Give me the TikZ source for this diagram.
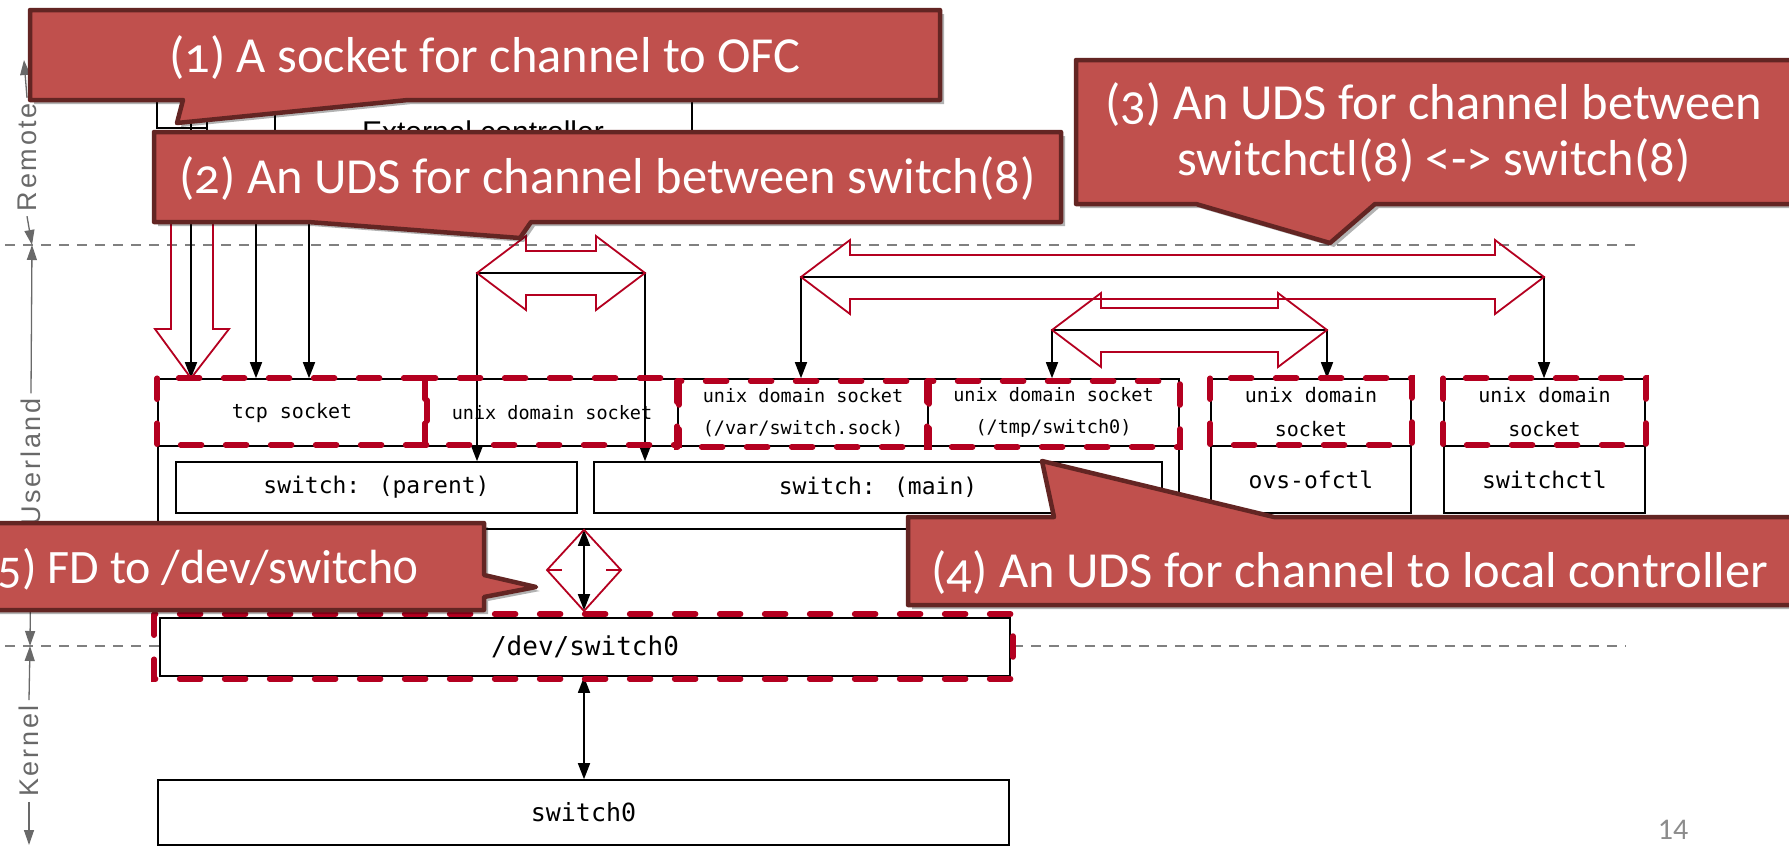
\documentclass[tikz,border=0pt]{standalone}
\usepackage{fontspec}
\setmainfont{Liberation Sans}
\newfontfamily\calloutfont[Numbers=OldStyle]{Carlito}
\newfontfamily\pagefont{Carlito}
\newfontfamily\gothic{DejaVu Sans Mono}
\newfontfamily\spacedfont[LetterSpace=10]{Liberation Sans}
\usetikzlibrary{arrows.meta,shadows,calc}

\definecolor{calloutfill}{RGB}{192,80,77}
\definecolor{calloutedge}{RGB}{99,37,35}
\definecolor{hilite}{RGB}{180,0,32}
\definecolor{axisgray}{RGB}{105,105,105}
\definecolor{sepgray}{RGB}{128,128,128}
\definecolor{pagegray}{RGB}{140,140,140}

% hollow double-headed arrow between two named points on one level
\newcommand\hollowpair[2]{%
  \draw[hollow] let \p1=(#1), \p2=(#2) in
    (\x1,\y1) -- (\x1+49pt,\y1+37pt) -- (\x1+49pt,\y1+22pt) -- (\x2-49pt,\y1+22pt)
    -- (\x2-49pt,\y1+37pt) -- (\x2,\y2) -- (\x2-49pt,\y1-37pt) -- (\x2-49pt,\y1-22pt)
    -- (\x1+49pt,\y1-22pt) -- (\x1+49pt,\y1-37pt) -- cycle;}

\begin{document}
\begin{tikzpicture}[x=1pt,y=-1pt,
  box/.style={draw=black, line width=1.6pt, fill=white, inner sep=0pt, font=\gothic},
  conn/.style={draw=black, line width=1.6pt, -{Triangle[length=16pt,width=12pt]}},
  dconn/.style={draw=black, line width=1.6pt, {Triangle[length=16pt,width=12pt]}-{Triangle[length=16pt,width=12pt]}},
  hollow/.style={draw=hilite, line width=1.8pt, line join=miter},
  hilitebox/.style={draw=hilite, line width=5.5pt, line cap=round, dash pattern=on 21pt off 24pt},
  sepline/.style={draw=sepgray, line width=1.4pt, dash pattern=on 10pt off 8pt},
  axislbl/.style={rotate=90, text=axisgray, font=\spacedfont\fontsize{27}{30}\selectfont, inner sep=5pt},
  axarrow/.style={draw=axisgray, line width=1.3pt, -{Triangle[length=15pt,width=10pt]}},
  callout/.style={fill=calloutfill, draw=calloutedge, line width=4.5pt, line join=round,
    drop shadow={shadow xshift=4pt, shadow yshift=-4pt, opacity=0.3, fill=black}},
  callouttext/.style={text=white, font=\calloutfont\fontsize{50.5}{56}\selectfont, inner sep=0pt},
]
\useasboundingbox (0,0) rectangle (1789,847);
\clip (0,0) rectangle (1789,847);
\fill[white] (0,0) rectangle (1789,847);

% --- layer separators
\coordinate (sepA1) at (5,245);  \coordinate (sepA2) at (1635,245);
\coordinate (sepB1) at (5,646);  \coordinate (sepB2) at (1626,646);
\draw[sepline] (sepA1) -- (sepA2);
\draw[sepline] (sepB1) -- (sepB2);

% --- side axis
\node[axislbl] (remote) at (27,157) {Remote};
\coordinate (remtop) at (24,60); \coordinate (rembot) at (32,245);
\draw[axarrow] (remote.east) -- (remtop);
\draw[axarrow] (remote.west) -- (rembot);
\node[axislbl] (userland) at (31,462) {Userland};
\coordinate (usrtop) at (32,245); \coordinate (usrbot) at (30,646);
\draw[axarrow] (userland.east) -- (usrtop);
\draw[axarrow] (userland.west) -- (usrbot);
\node[axislbl] (kernel) at (29,751) {Kernel};
\coordinate (kertop) at (30,646); \coordinate (kerbot) at (29,845);
\draw[axarrow] (kernel.east) -- (kertop);
\draw[axarrow] (kernel.west) -- (kerbot);

% --- remote side
\node[box, minimum width=485pt, minimum height=110pt] (ext) at (449.5,95) {};
\node[box, minimum width=50pt, minimum height=88pt] (extsock) at (182,84) {};
\coordinate (extdiv) at (275,0);
\draw[line width=1.6pt] (extdiv |- ext.north) -- (extdiv |- ext.south);
\node[anchor=base, font=\fontsize{30}{34}\selectfont, inner sep=0pt] (extlabel) at (483,142) {External controller};

% --- switch(8) process
\node[box, minimum width=1021pt, minimum height=150pt] (swbox) at (668.5,454) {};
\node[box, minimum width=268pt, minimum height=67pt, font=\gothic\fontsize{20}{24}\selectfont] (tcp) at (292,412.5) {tcp socket};
\node[box, minimum width=252pt, minimum height=67pt, font=\gothic\fontsize{18.5}{22}\selectfont] (uds) at (552,412.5) {unix domain socket};
\node[box, minimum width=250pt, minimum height=67pt, align=center, font=\gothic\fontsize{18.5}{32}\selectfont] (var) at (803,412.5) {unix domain socket\\(/var/switch.sock)};
\node[box, minimum width=251pt, minimum height=67pt, align=center, font=\gothic\fontsize{18.5}{32}\selectfont] (tmp) at (1053.5,412.5) {unix domain socket\\(/tmp/switch0)};
\node[box, minimum width=401pt, minimum height=51pt, font=\gothic\fontsize{23}{26}\selectfont] (parent) at (376.5,487.5) {switch: (parent)};
\node[box, minimum width=568pt, minimum height=51pt, font=\gothic\fontsize{23}{26}\selectfont] (main) at (878,487.5) {switch: (main)};

% --- local controllers
\node[box, minimum width=200pt, minimum height=67pt, align=center, font=\gothic\fontsize{20}{34}\selectfont] (ovsuds) at (1311,412.5) {unix domain\\socket};
\node[box, minimum width=200pt, minimum height=67pt, font=\gothic\fontsize{23}{26}\selectfont] (ovs) at (1311,479.5) {ovs-ofctl};
\node[box, minimum width=201pt, minimum height=67pt, align=center, font=\gothic\fontsize{20}{34}\selectfont] (sctluds) at (1544.5,412.5) {unix domain\\socket};
\node[box, minimum width=201pt, minimum height=67pt, font=\gothic\fontsize{23}{26}\selectfont] (sctl) at (1544.5,479.5) {switchctl};

% --- kernel side
\node[box, minimum width=850pt, minimum height=58pt, font=\gothic\fontsize{26}{30}\selectfont] (devsw) at (585,647) {/dev/switch0};
\node[box, minimum width=851pt, minimum height=65pt, font=\gothic\fontsize{25}{30}\selectfont] (sw0) at (583.5,812.5) {switch0};

% --- connectors
\coordinate (a1) at (191,40);
\coordinate (a2) at (256,0);
\coordinate (a3) at (309,0);
\draw[conn] (a1) -- (a1 |- tcp.north);
\draw[conn] (a2 |- ext.south) -- (a2 |- tcp.north);
\draw[conn] (a3 |- ext.south) -- (a3 |- tcp.north);
\coordinate (u1) at (477,273);  \coordinate (u2) at (645,273);
\draw[dconn] (u1 |- parent.north) -- (u1) -- (u2) -- (u2 |- main.north);
\coordinate (s1) at (801,277);  \coordinate (s2) at (1544,277);
\draw[dconn] (s1 |- var.north) -- (s1) -- (s2) -- (s2 |- sctluds.north);
\coordinate (o1) at (1052,330); \coordinate (o2) at (1327,330);
\draw[dconn] (o1 |- tmp.north) -- (o1) -- (o2) -- (o2 |- ovsuds.north);
\coordinate (f1) at (584,0);
\draw[dconn, shorten >=7pt] (f1 |- swbox.south) -- (f1 |- devsw.north);
\draw[dconn] (f1 |- devsw.south) -- (f1 |- sw0.north);

% --- hollow highlight arrows
\draw[hollow] (171,200) -- (171,329) -- (155,329) -- (a1 |- tcp.north) -- (229,329) -- (213,329) -- (213,200) -- cycle;
\hollowpair{u1}{u2}
\hollowpair{s1}{s2}
\hollowpair{o1}{o2}
\coordinate (d1) at (f1 |- swbox.south);
\coordinate (d2) at (584,611);
\draw[hollow] (d1) -- (621,570) -- (d2) -- (547,570) -- cycle;
\draw[hollow] (621,570) -- (606,570);
\draw[hollow] (547,570) -- (562,570);

% --- highlighted sockets
\draw[hilitebox] (tcp.north west) rectangle ([yshift=2pt]tcp.south east);
\draw[hilitebox] (uds.north west) rectangle ([yshift=2pt]uds.south east);
\draw[hilitebox] ([yshift=-3pt]var.north west) rectangle (var.south east);
\draw[hilitebox] ([yshift=-3pt]tmp.north west) rectangle (tmp.south east);
\draw[hilitebox] (ovsuds.north west) rectangle ([yshift=2pt]ovsuds.south east);
\draw[hilitebox] (sctluds.north west) rectangle ([yshift=2pt]sctluds.south east);
\draw[hilitebox] ([shift={(-5pt,3pt)}]devsw.north west) rectangle ([shift={(2pt,-2pt)}]devsw.south east);

% --- callouts
\path[callout] (30,10) -- (940,10) -- (940,100) -- (408,100) -- (177,123) -- (183,100) -- (30,100) -- cycle;
\node[callouttext, anchor=base] (c1) at (485,72) {(1) A socket for channel to OFC};

\path[callout] (154,132) -- (1061,132) -- (1061,222) -- (531,222) -- (520,238) -- (308,222) -- (154,222) -- cycle;
\node[callouttext, anchor=base] (c2) at (607.5,193) {(2) An UDS for channel between switch(8)};

\path[callout] (1076,60) -- (1810,60) -- (1810,204) -- (1375,204) -- (1330,243) -- (1196,204) -- (1076,204) -- cycle;
\node[callouttext, anchor=base] (c3a) at (1434,119) {(3) An UDS for channel between};
\node[callouttext, anchor=base] (c3b) at (1434,175) {switchctl(8) <-> switch(8)};

\path[callout] (908,517) -- (1054,517) -- (1042,461) -- (1274,517) -- (1810,517) -- (1810,605) -- (908,605) -- cycle;
\node[callouttext, anchor=base] (c4) at (1350,587) {(4) An UDS for channel to local controller};

\path[callout] (-80,523) -- (484,523) -- (484,575) -- (536,587) -- (484,597) -- (484,610) -- (-80,610) -- cycle;
\node[callouttext, anchor=base east, font=\calloutfont\fontsize{48}{54}\selectfont] (c5) at (418,583) {(5) FD to /dev/switch0};

% --- page number
\node[text=pagegray, font=\pagefont\fontsize{30}{34}\selectfont] (pageno) at (1673,830) {14};
\end{tikzpicture}
\end{document}
